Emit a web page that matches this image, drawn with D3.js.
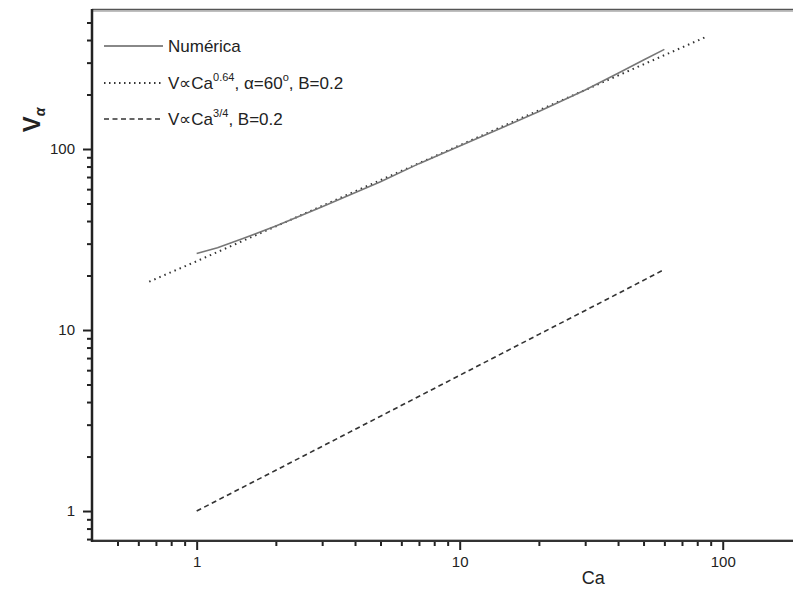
<!DOCTYPE html>
<html>
<head>
<meta charset="utf-8">
<script src="https://cdn.jsdelivr.net/npm/d3@7"></script>
<style>
  html, body { margin: 0; padding: 0; background: #fff; }
  svg { display: block; font-family: "Liberation Sans", Arial, sans-serif; }
</style>
</head>
<body>
<svg id="chart" width="793" height="590"></svg>
<script>
// Numerical solution (solid grey)
const numCa = [1.0, 1.2, 1.5, 2, 3, 5, 7, 10, 15, 20, 30, 40, 50, 60];
const numV  = [26.5, 28.5, 32, 37.5, 48, 66, 83, 104, 134, 161, 212, 262, 310, 355];
// Power law V ∝ Ca^0.64, α=60°, B=0.2 (dotted)
const dotCa = [0.66, 1, 2, 5, 10, 20, 50, 87];
const dotV  = [18.5, 24, 37.4, 67.3, 104.8, 163.5, 293.6, 418];
// Power law V ∝ Ca^3/4, B=0.2 (dashed)
const dashCa = [1, 2, 5, 10, 20, 40, 60];
const dashV  = [1, 1.68, 3.34, 5.62, 9.46, 15.9, 21.6];
// Axis ticks
const xMajor = [1, 10, 100];
const xMinor = [0.5, 0.6, 0.7, 0.8, 0.9, 2, 3, 4, 5, 6, 7, 8, 9, 20, 30, 40, 50, 60, 70, 80, 90];
const yMajor = [1, 10, 100];
const yMinor = [0.7, 0.8, 0.9, 2, 3, 4, 5, 6, 7, 8, 9, 20, 30, 40, 50, 60, 70, 80, 90, 200, 300, 400, 500];

(function () {
  const svg = d3.select("#chart");
  const pl = 92, pr = 793, pt = 10, pb = 541;

  const x = d3.scaleLog().domain([0.4, 185]).range([pl, pr]);
  const y = d3.scaleLog().domain([0.683, 586]).range([pb, pt]);

  const ink = "#222";

  const xAxisMinor = d3.axisBottom(x).tickValues(xMinor).tickSize(5).tickFormat("");
  const yAxisMinor = d3.axisLeft(y).tickValues(yMinor).tickSize(5).tickFormat("");
  const xAxisMajor = d3.axisBottom(x).tickValues(xMajor).tickSize(9).tickPadding(6).tickFormat(d3.format("d"));
  const yAxisMajor = d3.axisLeft(y).tickValues(yMajor).tickSize(9).tickPadding(8).tickFormat(d3.format("d"));

  function styleAxis(g) {
    g.select(".domain").remove();
    g.selectAll(".tick line").attr("stroke", ink).attr("stroke-width", 2);
    g.selectAll(".tick text").attr("fill", ink).attr("font-size", 15)
      .attr("font-family", "Liberation Sans, Arial, sans-serif");
  }

  svg.append("g").attr("transform", `translate(0,${pb})`).call(xAxisMinor).call(styleAxis);
  svg.append("g").attr("transform", `translate(${pl},0)`).call(yAxisMinor).call(styleAxis);
  svg.append("g").attr("transform", `translate(0,${pb})`).call(xAxisMajor).call(styleAxis);
  svg.append("g").attr("transform", `translate(${pl},0)`).call(yAxisMajor).call(styleAxis);

  // frame lines
  svg.append("line").attr("x1", pl).attr("x2", pr).attr("y1", pt - 0.5).attr("y2", pt - 0.5)
    .attr("stroke", "#555").attr("stroke-width", 1.5);
  svg.append("line").attr("x1", pl).attr("x2", pr).attr("y1", pt + 1).attr("y2", pt + 1)
    .attr("stroke", "#aaa").attr("stroke-width", 1.5);
  svg.append("line").attr("x1", pl).attr("x2", pr).attr("y1", pb).attr("y2", pb)
    .attr("stroke", "#333").attr("stroke-width", 2);
  svg.append("line").attr("x1", pl).attr("x2", pr).attr("y1", pb - 1.5).attr("y2", pb - 1.5)
    .attr("stroke", "#bbb").attr("stroke-width", 1);
  svg.append("line").attr("x1", pl).attr("x2", pl).attr("y1", pt - 1).attr("y2", pb + 1)
    .attr("stroke", "#222").attr("stroke-width", 2.5);

  // series
  const line = d3.line().x(d => x(d[0])).y(d => y(d[1]));
  const zip = (a, b) => a.map((v, i) => [v, b[i]]);

  svg.append("path").datum(zip(dotCa, dotV)).attr("d", line)
    .attr("fill", "none").attr("stroke", "#333").attr("stroke-width", 2)
    .attr("stroke-dasharray", "1.5,4");
  svg.append("path").datum(zip(numCa, numV)).attr("d", line)
    .attr("fill", "none").attr("stroke", "#777").attr("stroke-width", 1.6);
  svg.append("path").datum(zip(dashCa, dashV)).attr("d", line)
    .attr("fill", "none").attr("stroke", "#333").attr("stroke-width", 1.6)
    .attr("stroke-dasharray", "5,3.5");

  // axis titles
  svg.append("text").attr("x", x(Math.sqrt(10 * 100)) + 2).attr("y", 584)
    .attr("text-anchor", "middle").attr("font-size", 18).attr("fill", ink).text("Ca");

  const yt = svg.append("text")
    .attr("transform", "translate(40,120) rotate(-90)")
    .attr("text-anchor", "middle").attr("fill", ink).attr("font-weight", "bold").attr("font-size", 24);
  yt.append("tspan").text("V");
  yt.append("tspan").attr("dy", 5).attr("font-size", 14).attr("font-style", "italic").text("α");

  // legend
  const legend = svg.append("g");
  const rows = [
    { y: 46, dash: null, color: "#888", w: 2 },
    { y: 83, dash: "1.5,3.5", color: "#333", w: 2 },
    { y: 119, dash: "5,3.5", color: "#333", w: 1.6 }
  ];
  rows.forEach(r => {
    legend.append("line").attr("x1", 104).attr("x2", 163).attr("y1", r.y).attr("y2", r.y)
      .attr("stroke", r.color).attr("stroke-width", r.w)
      .attr("stroke-dasharray", r.dash);
  });
  const fs = 17;
  legend.append("text").attr("x", 168).attr("y", rows[0].y + 6).attr("font-size", fs).attr("fill", ink)
    .text("Numérica");
  const t2 = legend.append("text").attr("x", 168).attr("y", rows[1].y + 6).attr("font-size", fs).attr("fill", ink);
  t2.append("tspan").text("V∝Ca");
  t2.append("tspan").attr("dy", -8).attr("font-size", 11).text("0.64");
  t2.append("tspan").attr("dy", 8).text(", α=60");
  t2.append("tspan").attr("dy", -8).attr("font-size", 11).text("o");
  t2.append("tspan").attr("dy", 8).text(", B=0.2");
  const t3 = legend.append("text").attr("x", 168).attr("y", rows[2].y + 6).attr("font-size", fs).attr("fill", ink);
  t3.append("tspan").text("V∝Ca");
  t3.append("tspan").attr("dy", -8).attr("font-size", 11).text("3/4");
  t3.append("tspan").attr("dy", 8).text(", B=0.2");
})();
</script>
</body>
</html>
